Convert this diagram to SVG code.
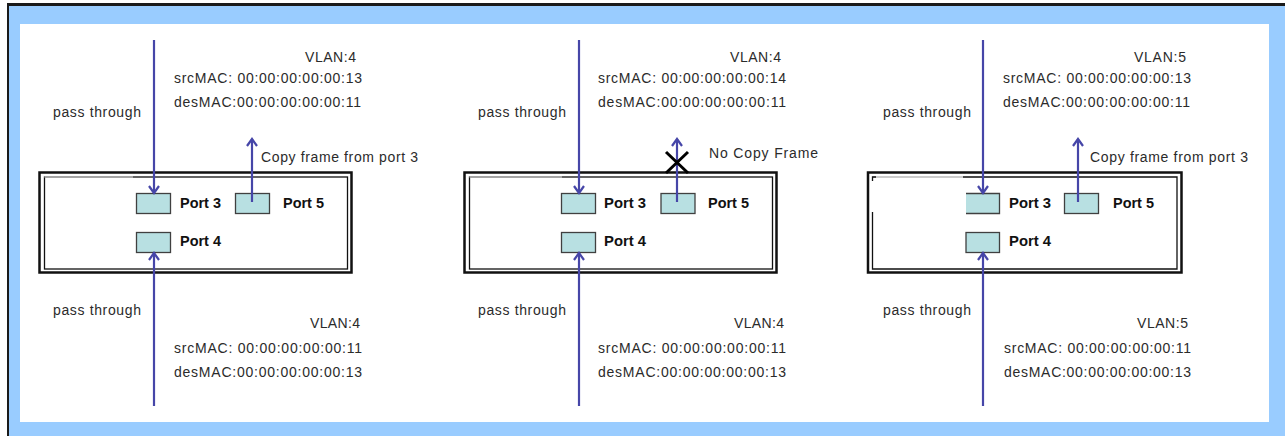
<svg xmlns="http://www.w3.org/2000/svg" width="1285" height="436" viewBox="0 0 1285 436">
<defs>
<style>
.t{font-family:"Liberation Sans",Arial,sans-serif;font-size:14px;fill:#2b2b2b}
.p{font-family:"Liberation Sans",Arial,sans-serif;font-size:14px;font-weight:bold;fill:#111}
.port{fill:#B8E0E2;stroke:#404040;stroke-width:1.3}
.outer{fill:#fff;stroke:#111;stroke-width:2.5}
.inner{fill:none;stroke:#111;stroke-width:1.3}
.ln{stroke:#4646A8;stroke-width:2.2;fill:none;marker-end:url(#arr)}
.x{stroke:#000;stroke-width:3;fill:none}
</style>
<marker id="arr" markerUnits="userSpaceOnUse" viewBox="-9 -7 11 14" refX="0" refY="0" markerWidth="11" markerHeight="14" orient="auto">
<path d="M-7,-5 L0,0 L-7,5" fill="none" stroke="#4646A8" stroke-width="2.2"/>
</marker>
</defs>
<rect x="0" y="0" width="1285" height="436" fill="#fff"/>
<rect x="7" y="3" width="1278" height="433" fill="#1a1a1a"/>
<rect x="9" y="6" width="1276" height="430" fill="#99CCFF"/>
<rect x="20" y="24" width="1249" height="398" fill="#fff"/>

<g id="switch1">
<rect class="outer" x="39.5" y="172.5" width="312" height="100"/>
<rect class="inner" x="44.5" y="177" width="303" height="92"/>
<line x1="44.5" y1="177" x2="133" y2="177" stroke="#bbb" stroke-width="1.4"/>
</g>
<g id="switch2">
<rect class="outer" x="464.5" y="172.5" width="312" height="100"/>
<rect class="inner" x="469.5" y="177" width="303" height="92"/>
<line x1="469.5" y1="177" x2="562" y2="177" stroke="#bbb" stroke-width="1.4"/>
</g>
<g id="switch3">
<rect class="outer" x="868" y="172.5" width="313.5" height="100"/>
<path class="inner" d="M872.5,212 V269 H1177 V177 H963"/>
<path d="M872.5,177 H963" stroke="#bbb" stroke-width="1.4"/>
<path class="inner" d="M872.5,181 V177 H876"/>
</g>

<g id="p1-port3"><rect class="port" x="136.5" y="193.5" width="34" height="20"/><text class="p" x="180" y="208" textLength="41" lengthAdjust="spacingAndGlyphs">Port 3</text></g>
<g id="p1-port5"><rect class="port" x="235.5" y="193.5" width="34" height="20"/><text class="p" x="283" y="208" textLength="41" lengthAdjust="spacingAndGlyphs">Port 5</text></g>
<g id="p1-port4"><rect class="port" x="136.5" y="232.5" width="34" height="20"/><text class="p" x="180" y="246" textLength="41" lengthAdjust="spacingAndGlyphs">Port 4</text></g>

<g id="p2-port3"><rect class="port" x="561.5" y="193.5" width="34" height="20"/><text class="p" x="604" y="208" textLength="42" lengthAdjust="spacingAndGlyphs">Port 3</text></g>
<g id="p2-port5"><rect class="port" x="661" y="193.5" width="34" height="20"/><text class="p" x="708" y="208" textLength="41" lengthAdjust="spacingAndGlyphs">Port 5</text></g>
<g id="p2-port4"><rect class="port" x="561.5" y="232.5" width="34" height="20"/><text class="p" x="604" y="246" textLength="42" lengthAdjust="spacingAndGlyphs">Port 4</text></g>

<g id="p3-port3"><rect x="966" y="193.5" width="33.5" height="20" fill="#B8E0E2"/><path d="M966,193.5 H999.5 V213.5 H966" fill="none" stroke="#404040" stroke-width="1.3"/><text class="p" x="1009" y="208" textLength="42" lengthAdjust="spacingAndGlyphs">Port 3</text></g>
<g id="p3-port5"><rect class="port" x="1064.5" y="193.5" width="34" height="20"/><text class="p" x="1113" y="208" textLength="41" lengthAdjust="spacingAndGlyphs">Port 5</text></g>
<g id="p3-port4"><rect class="port" x="966" y="232.5" width="33.5" height="20"/><text class="p" x="1009" y="246" textLength="42" lengthAdjust="spacingAndGlyphs">Port 4</text></g>

<g id="connectors">
<line class="ln" x1="154" y1="40" x2="154" y2="193"/>
<line class="ln" x1="154" y1="406" x2="154" y2="253"/>
<line class="ln" x1="252" y1="202" x2="252" y2="139"/>
<line class="ln" x1="579" y1="40" x2="579" y2="193"/>
<line class="ln" x1="579" y1="406" x2="579" y2="253"/>
<line class="ln" x1="677" y1="202" x2="677" y2="139"/>
<line class="ln" x1="983" y1="40" x2="983" y2="193"/>
<line class="ln" x1="983" y1="406" x2="983" y2="253"/>
<line class="ln" x1="1078" y1="202" x2="1078" y2="139"/>
</g>

<g id="nocopy-mark">
<path class="x" d="M666,152 L688,173 M688,152 L666,173"/>
</g>

<g id="labels1">
<text class="t" x="53" y="117" textLength="88">pass through</text>
<text class="t" x="305" y="62" textLength="51">VLAN:4</text>
<text class="t" x="174" y="83" textLength="188">srcMAC: 00:00:00:00:00:13</text>
<text class="t" x="174" y="107" textLength="187">desMAC:00:00:00:00:00:11</text>
<text class="t" x="261" y="162" textLength="157">Copy frame from port 3</text>
<text class="t" x="53" y="315" textLength="88">pass through</text>
<text class="t" x="310" y="328" textLength="50">VLAN:4</text>
<text class="t" x="174" y="353" textLength="188">srcMAC: 00:00:00:00:00:11</text>
<text class="t" x="174" y="377" textLength="188">desMAC:00:00:00:00:00:13</text>
</g>
<g id="labels2">
<text class="t" x="478" y="117" textLength="88">pass through</text>
<text class="t" x="730" y="62" textLength="51">VLAN:4</text>
<text class="t" x="598" y="83" textLength="188">srcMAC: 00:00:00:00:00:14</text>
<text class="t" x="598" y="107" textLength="188">desMAC:00:00:00:00:00:11</text>
<text class="t" x="709" y="158" textLength="109">No Copy Frame</text>
<text class="t" x="478" y="315" textLength="88">pass through</text>
<text class="t" x="734" y="328" textLength="50">VLAN:4</text>
<text class="t" x="598" y="353" textLength="188">srcMAC: 00:00:00:00:00:11</text>
<text class="t" x="598" y="377" textLength="188">desMAC:00:00:00:00:00:13</text>
</g>
<g id="labels3">
<text class="t" x="883" y="117" textLength="88">pass through</text>
<text class="t" x="1134" y="62" textLength="52">VLAN:5</text>
<text class="t" x="1003" y="83" textLength="188">srcMAC: 00:00:00:00:00:13</text>
<text class="t" x="1003" y="107" textLength="187">desMAC:00:00:00:00:00:11</text>
<text class="t" x="1090" y="162" textLength="158">Copy frame from port 3</text>
<text class="t" x="883" y="315" textLength="88">pass through</text>
<text class="t" x="1137" y="328" textLength="51">VLAN:5</text>
<text class="t" x="1004" y="353" textLength="187">srcMAC: 00:00:00:00:00:11</text>
<text class="t" x="1004" y="377" textLength="187">desMAC:00:00:00:00:00:13</text>
</g>
</svg>
